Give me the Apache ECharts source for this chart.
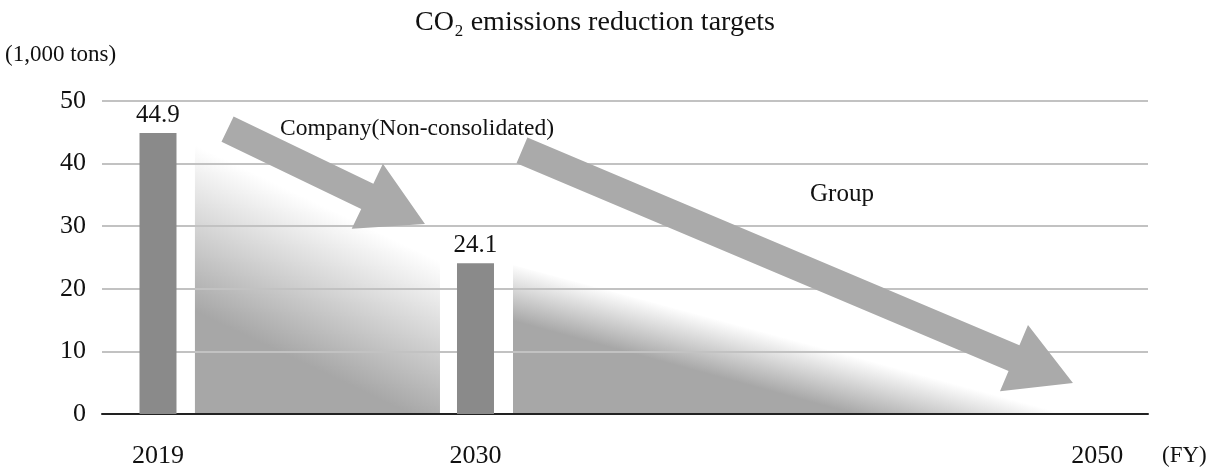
<!DOCTYPE html>
<html>
<head>
<meta charset="utf-8">
<script src="https://cdn.jsdelivr.net/npm/echarts@6/dist/echarts.min.js"></script>
<style>
  html, body { margin: 0; padding: 0; background: #fff; }
  #main { width: 1210px; height: 470px; }
</style>
</head>
<body>
<div id="main"></div>
<script>
// data
var years = [2019, 2030, 2050];
var emissions = [44.9, 24.1];
// shaded wedges behind the bars: [year, value] of the sloped top edge
var companyShade = [[2020.28, 43.0], [2028.77, 24.3]];
var groupShade = [[2031.30, 23.8], [2050.6, 0]];
// arrows: [fromYear, fromValue, toYear, toValue]
var arrows = [[2021.41, 45.5, 2028.25, 30.35], [2031.61, 42.1, 2050.7, 4.95]];
var arrowLabels = ["Company(Non-consolidated)", "Group"];

var serif = '"Liberation Serif", "DejaVu Serif", serif';

var myChart = echarts.init(document.getElementById("main"));

var barData = emissions.map(function(v, i) {
  return [years[i], v];
});

function wedge(data, grad) {
  return {
    type: "line",
    data: data,
    symbol: "none",
    silent: true,
    z: -1,
    lineStyle: { width: 0, opacity: 0 },
    areaStyle: {
      opacity: 1,
      color: new echarts.graphic.LinearGradient(grad[0], grad[1], grad[2], grad[3], [
        { offset: 0, color: "#a7a7a7" },
        { offset: 1, color: "#ffffff" }
      ])
    },
    animation: false
  };
}

var option = {
  animation: false,
  title: {
    text: "CO₂ emissions reduction targets",
    left: 590,
    textAlign: "center",
    top: 4,
    textStyle: { fontFamily: serif, fontSize: 28, fontWeight: "normal", color: "#111" }
  },
  graphic: [
    { type: "text", left: 5, top: 43, style: { text: "(1,000 tons)", font: "23px " + serif, fill: "#111" } },
    { type: "text", left: 1162, top: 444, style: { text: "(FY)", font: "23px " + serif, fill: "#111" } },
    { type: "text", left: 280, top: 117, z: 10, style: { text: arrowLabels[0], font: "23.5px " + serif, fill: "#111" } },
    { type: "text", left: 810, top: 182, z: 10, style: { text: arrowLabels[1], font: "25px " + serif, fill: "#111" } }
  ],
  grid: { left: 102, right: 62, top: 101, bottom: 56 },
  xAxis: {
    type: "value",
    min: 2017.06,
    max: 2053.3,
    splitLine: { show: false },
    axisTick: { show: false },
    axisLine: { show: true, lineStyle: { color: "#222", width: 2 } },
    axisLabel: {
      customValues: years,
      margin: 29,
      fontFamily: serif,
      fontSize: 26,
      color: "#111",
      formatter: function(v) {
        return v === 2050 ? "{far|" + v + "}" : String(v);
      },
      rich: {
        far: { fontFamily: serif, fontSize: 26, color: "#111", padding: [0, 0, 0, 89] }
      }
    }
  },
  yAxis: {
    type: "value",
    min: 0,
    max: 50,
    interval: 10,
    axisLine: { show: false },
    axisTick: { show: false },
    axisLabel: { margin: 16, fontFamily: serif, fontSize: 26, color: "#111" },
    splitLine: { show: true, lineStyle: { color: "#c2c2c2", width: 2 } }
  },
  series: [
    wedge(companyShade, [0.237, 0.721, 0.5, 0.217]),
    wedge(groupShade, [0.474, 0.857, 0.5, 0.5]),
    {
      type: "bar",
      data: barData,
      barWidth: 37,
      itemStyle: { color: "#8a8a8a" },
      label: {
        show: true,
        position: "top",
        distance: 5,
        fontFamily: serif,
        fontSize: 25,
        color: "#111"
      },
      z: 2
    },
    {
      type: "custom",
      data: arrows,
      silent: true,
      z: 3,
      renderItem: function(params, api) {
        var p0 = api.coord([api.value(0), api.value(1)]);
        var p1 = api.coord([api.value(2), api.value(3)]);
        var dx = p1[0] - p0[0], dy = p1[1] - p0[1];
        var len = Math.sqrt(dx * dx + dy * dy);
        var ux = dx / len, uy = dy / len;
        var nx = -uy, ny = ux;
        var sw = 14, hw = 36, hl = 64;
        var bx = p1[0] - ux * hl, by = p1[1] - uy * hl;
        var pts = [
          [p0[0] + nx * sw, p0[1] + ny * sw],
          [bx + nx * sw, by + ny * sw],
          [bx + nx * hw, by + ny * hw],
          [p1[0], p1[1]],
          [bx - nx * hw, by - ny * hw],
          [bx - nx * sw, by - ny * sw],
          [p0[0] - nx * sw, p0[1] - ny * sw]
        ];
        return { type: "polygon", shape: { points: pts }, style: { fill: "#aaaaaa" } };
      }
    }
  ]
};

myChart.setOption(option);
</script>
</body>
</html>
